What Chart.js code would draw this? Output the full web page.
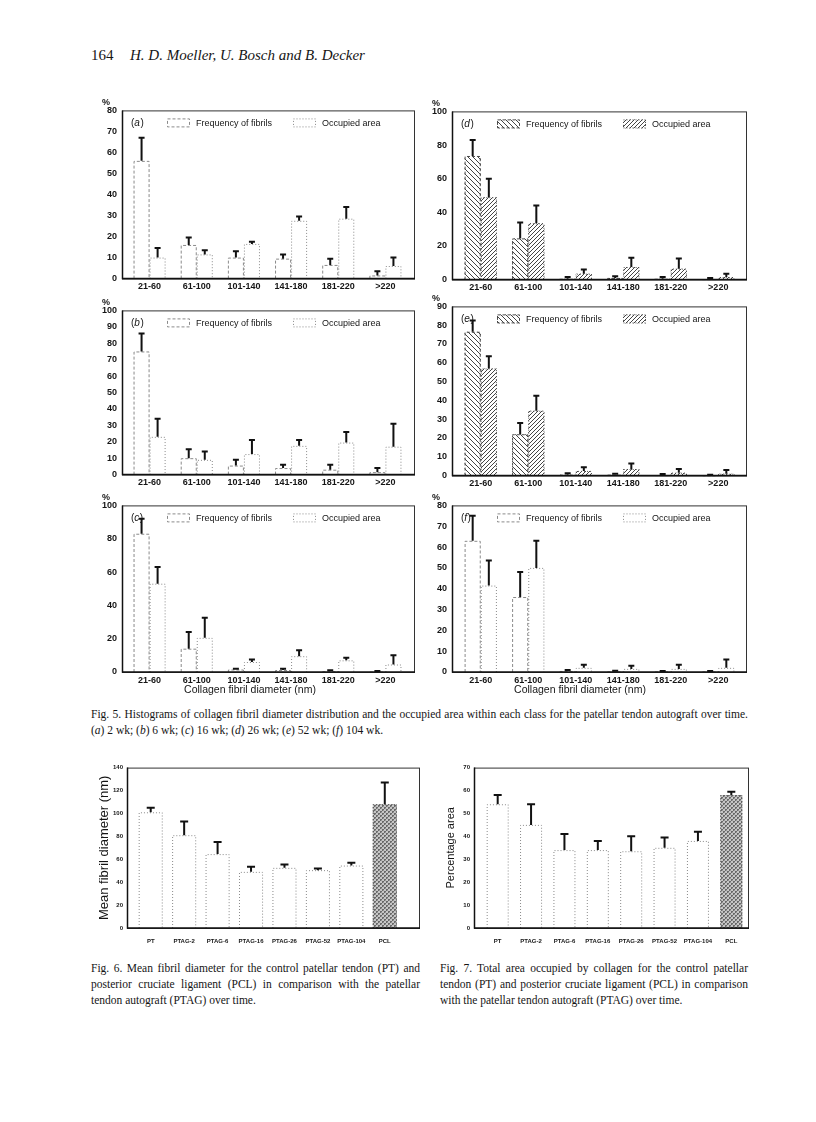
<!DOCTYPE html>
<html>
<head>
<meta charset="utf-8">
<script src="https://cdn.jsdelivr.net/npm/chart.js@4.4.1/dist/chart.umd.min.js"></script>
<style>
  body { margin: 0; background: #fff; width: 816px; height: 1122px; position: relative; font-family: "Liberation Serif", "Times New Roman", serif; color: #151515; }
  .box { position: absolute; }
  .txt { position: absolute; white-space: nowrap; }
  .cap { position: absolute; font-size: 11.5px; line-height: 16px; }
  .cap div { white-space: nowrap; text-align: justify; text-align-last: justify; }
  .cap div.last { text-align-last: left; }
</style>
</head>
<body>

<div class="txt" style="left:91px;top:47px;font-size:15px;">164</div>
<div class="txt" style="left:130px;top:47px;font-size:15px;font-style:italic;">H. D. Moeller, U. Bosch and B. Decker</div>

<div class="box" style="left:92px;top:96px;width:323px;height:197px;"><canvas id="panelA"></canvas></div>
<div class="box" style="left:422px;top:96px;width:325px;height:199px;"><canvas id="panelD"></canvas></div>
<div class="box" style="left:92px;top:296px;width:323px;height:193px;"><canvas id="panelB"></canvas></div>
<div class="box" style="left:422px;top:291px;width:325px;height:200px;"><canvas id="panelE"></canvas></div>
<div class="box" style="left:92px;top:491px;width:323px;height:209px;"><canvas id="panelC"></canvas></div>
<div class="box" style="left:422px;top:490px;width:325px;height:210px;"><canvas id="panelF"></canvas></div>

<div class="cap" style="left:91px;top:706px;width:657px;">
  <div>Fig. 5. Histograms of collagen fibril diameter distribution and the occupied area within each class for the patellar tendon autograft over time.</div>
  <div class="last">(<i>a</i>) 2 wk; (<i>b</i>) 6 wk; (<i>c</i>) 16 wk; (<i>d</i>) 26 wk; (<i>e</i>) 52 wk; (<i>f</i>) 104 wk.</div>
</div>

<div class="box" style="left:94px;top:753px;width:326px;height:191px;"><canvas id="fig6"></canvas></div>
<div class="box" style="left:441px;top:753px;width:308px;height:191px;"><canvas id="fig7"></canvas></div>

<div class="cap" style="left:91px;top:960px;width:329px;">
  <div>Fig. 6. Mean fibril diameter for the control patellar tendon (PT) and</div>
  <div>posterior cruciate ligament (PCL) in comparison with the patellar</div>
  <div class="last">tendon autograft (PTAG) over time.</div>
</div>
<div class="cap" style="left:440px;top:960px;width:308px;">
  <div>Fig. 7. Total area occupied by collagen for the control patellar</div>
  <div>tendon (PT) and posterior cruciate ligament (PCL) in comparison</div>
  <div class="last">with the patellar tendon autograft (PTAG) over time.</div>
</div>

<script>
// fibril diameter classes (nm)
const classes = ["21-60", "61-100", "101-140", "141-180", "181-220", ">220"];

// (a) 2 wk
const aFreq = [56, 16, 10, 9.5, 6.5, 1.5];
const aFreqSd = [11, 3.5, 3, 2, 3, 2];
const aArea = [10, 11.5, 16.5, 27.5, 28.5, 6];
const aAreaSd = [4.5, 2, 1, 2, 5.5, 4];
// (b) 6 wk
const bFreq = [75, 10, 5.5, 4, 3, 1.5];
const bFreqSd = [11, 5.5, 3.5, 2, 3, 2.5];
const bArea = [23, 9, 12.5, 17.5, 19.5, 17];
const bAreaSd = [11, 5, 8.5, 3.5, 6.5, 14];
// (c) 16 wk
const cFreq = [83, 14, 1.5, 1.2, 0.5, 0.3];
const cFreqSd = [9, 10, 0.5, 0.8, 0.5, 0.3];
const cArea = [53, 20.5, 6, 9.5, 7, 4.5];
const cAreaSd = [10, 12, 1.5, 3.5, 1.5, 5.5];
// (d) 26 wk
const dFreq = [73.5, 24.5, 0.5, 1, 0.5, 0.3];
const dFreqSd = [9.5, 9.5, 1, 1, 1, 0.7];
const dArea = [49, 33.5, 3.5, 7.5, 6.5, 1.5];
const dAreaSd = [11, 10.5, 2.5, 5.5, 6, 2];
// (e) 52 wk
const eFreq = [76.5, 22, 0.5, 0.5, 0.3, 0.2];
const eFreqSd = [6, 6, 0.7, 0.5, 0.5, 0.3];
const eArea = [57, 34.5, 2.5, 3.5, 1.5, 1];
const eAreaSd = [6.5, 8, 2, 3, 2, 2];
// (f) 104 wk
const fFreq = [63, 36, 0.5, 0.3, 0.3, 0.3];
const fFreqSd = [12, 12, 0.5, 0.3, 0.2, 0.2];
const fArea = [41.5, 50, 2, 1.5, 1.5, 2];
const fAreaSd = [12, 13, 1.5, 1.5, 2, 4];

// Fig. 6 / Fig. 7
const groups = ["PT", "PTAG-2", "PTAG-6", "PTAG-16", "PTAG-26", "PTAG-52", "PTAG-104", "PCL"];
const meanDiameter = [101, 81, 64.5, 49, 52.5, 50.5, 54.5, 108];
const meanDiameterSd = [4, 12, 10.5, 4.5, 3, 1.5, 2.5, 19];
const totalArea = [54, 45, 34, 34, 33.5, 35, 38, 58];
const totalAreaSd = [4, 9, 7, 4, 6.5, 4.5, 4, 1.5];

const SANS = '"Liberation Sans", Arial, sans-serif';
Chart.defaults.font.family = SANS;
Chart.defaults.color = "#151515";

function stripes(dir, fg, bg, s) {
  const c = document.createElement("canvas");
  c.width = c.height = s;
  const g = c.getContext("2d");
  g.fillStyle = bg;
  g.fillRect(0, 0, s, s);
  g.strokeStyle = fg;
  g.lineWidth = 1;
  g.beginPath();
  for (let i = -1; i <= 1; i++) {
    if (dir === "\\") { g.moveTo(i * s, 0); g.lineTo(i * s + s, s); }
    else { g.moveTo(i * s, s); g.lineTo(i * s + s, 0); }
  }
  g.stroke();
  return g.createPattern(c, "repeat");
}

function checker() {
  const c = document.createElement("canvas");
  c.width = c.height = 4;
  const g = c.getContext("2d");
  g.fillStyle = "#c6c6c6";
  g.fillRect(0, 0, 4, 4);
  g.fillStyle = "#6a6a6a";
  g.fillRect(0, 0, 2, 2); g.fillRect(2, 2, 2, 2);
  g.fillStyle = "#9a9a9a";
  g.fillRect(1, 1, 1, 1); g.fillRect(3, 3, 1, 1);
  return g.createPattern(c, "repeat");
}

// outlines, error bars, frame, legend
const panelDecor = {
  id: "panelDecor",
  afterDatasetsDraw(chart, args, o) {
    const ctx = chart.ctx;
    const y = chart.scales.y;
    chart.data.datasets.forEach((ds, i) => {
      chart.getDatasetMeta(i).data.forEach((bar, j) => {
        const c = Array.isArray(ds.outline) ? ds.outline[j] : ds.outline;
        const l = bar.x - bar.width / 2, r = bar.x + bar.width / 2;
        ctx.save();
        ctx.strokeStyle = c;
        ctx.lineWidth = 1;
        ctx.setLineDash(ds.dash);
        ctx.beginPath();
        ctx.moveTo(l + 0.5, bar.base);
        ctx.lineTo(l + 0.5, bar.y + 0.5);
        ctx.lineTo(r - 0.5, bar.y + 0.5);
        ctx.lineTo(r - 0.5, bar.base);
        ctx.stroke();
        ctx.setLineDash([]);
        const top = y.getPixelForValue(ds.data[j] + ds.sd[j]);
        ctx.strokeStyle = "#111";
        ctx.lineWidth = o.err;
        ctx.beginPath();
        ctx.moveTo(bar.x, bar.y);
        ctx.lineTo(bar.x, top);
        ctx.moveTo(bar.x - o.cap, top);
        ctx.lineTo(bar.x + o.cap, top);
        ctx.stroke();
        ctx.restore();
      });
    });
  },
  afterDraw(chart, args, o) {
    const { ctx, chartArea: a } = chart;
    const L = a.left - o.fl, R = a.right + o.fr;
    ctx.save();
    ctx.strokeStyle = "#333";
    ctx.lineWidth = 1;
    ctx.strokeRect(L + 0.5, a.top + 0.5, R - L - 1, a.bottom - a.top);
    ctx.strokeStyle = "#111";
    ctx.lineWidth = 1.5;
    ctx.beginPath();
    ctx.moveTo(L + 0.5, a.top);
    ctx.lineTo(L + 0.5, a.bottom);
    ctx.lineTo(R, a.bottom);
    ctx.stroke();
    ctx.fillStyle = "#151515";
    if (o.pct) {
      ctx.font = "bold 9px " + SANS;
      ctx.textAlign = "center";
      ctx.textBaseline = "middle";
      ctx.fillText("%", L - 16, a.top - 8);
    }
    if (o.xTitle) {
      ctx.font = "10.5px " + SANS;
      ctx.textAlign = "center";
      ctx.textBaseline = "middle";
      ctx.fillText(o.xTitle, L + 128, a.bottom + 18);
    }
    if (o.letter) {
      const ty = a.top + 13;
      ctx.textAlign = "left";
      ctx.textBaseline = "middle";
      let x = L + 9;
      ctx.font = "10px " + SANS;
      ctx.fillText("(", x, ty); x += ctx.measureText("(").width;
      ctx.font = "italic 10px " + SANS;
      ctx.fillText(o.letter, x, ty); x += ctx.measureText(o.letter).width + 0.5;
      ctx.font = "10px " + SANS;
      ctx.fillText(")", x, ty);
      const offs = [45, 171];
      chart.data.datasets.forEach((ds, i) => {
        const bx = L + offs[i], by = a.top + 8;
        ctx.fillStyle = ds.backgroundColor;
        ctx.fillRect(bx, by, 23, 9);
        ctx.strokeStyle = ds.outline;
        ctx.lineWidth = 1;
        ctx.setLineDash(ds.dash);
        ctx.strokeRect(bx + 0.5, by + 0.5, 22, 8);
        ctx.setLineDash([]);
        ctx.fillStyle = "#151515";
        ctx.font = "9px " + SANS;
        ctx.fillText(ds.label, bx + 29, ty);
      });
    }
    ctx.restore();
  }
};

function histogram(id, letter, freq, freqSd, area, areaSd, yMax, yStep, hatched, xTitle) {
  const line = hatched ? "#4a4a4a" : "#8a8a8a";
  const right = id === "panelD" || id === "panelE" || id === "panelF";
  new Chart(document.getElementById(id), {
    type: "bar",
    data: {
      labels: classes,
      datasets: [
        { label: "Frequency of fibrils", data: freq, sd: freqSd, backgroundColor: hatched ? stripes("\\", "#444", "#fff", 5) : "#fff", borderWidth: 0, outline: line, dash: [3, 2] },
        { label: "Occupied area", data: area, sd: areaSd, backgroundColor: hatched ? stripes("/", "#444", "#fff", 4) : "#fff", borderWidth: 0, outline: line, dash: [1, 2] }
      ]
    },
    options: {
      responsive: true,
      maintainAspectRatio: false,
      animation: false,
      layout: { padding: { top: 14, left: 0, right: right ? 5 : 6, bottom: 0 } },
      datasets: { bar: { categoryPercentage: 0.68, barPercentage: 1 } },
      plugins: {
        legend: { display: false },
        tooltip: { enabled: false },
        panelDecor: { letter, pct: true, cap: 3, err: 2, fl: right ? 5 : 4, fr: right ? 5 : 6, xTitle }
      },
      scales: {
        x: {
          grid: { display: false, drawTicks: false },
          border: { display: false },
          ticks: { color: "#151515", font: { size: 9, weight: "bold" }, padding: 3, maxRotation: 0, autoSkip: false },
          afterFit: s => { s.height = xTitle ? 28 : 14; }
        },
        y: {
          min: 0,
          max: yMax,
          ticks: { stepSize: yStep, color: "#151515", font: { size: 9, weight: "bold" }, padding: right ? 10 : 9 },
          grid: { display: false, drawTicks: false },
          border: { display: false },
          afterFit: s => { s.width = right ? 35 : 34; }
        }
      }
    },
    plugins: [panelDecor]
  });
}

histogram("panelA", "a", aFreq, aFreqSd, aArea, aAreaSd, 80, 10, false);
histogram("panelB", "b", bFreq, bFreqSd, bArea, bAreaSd, 100, 10, false);
histogram("panelC", "c", cFreq, cFreqSd, cArea, cAreaSd, 100, 20, false, "Collagen fibril diameter (nm)");
histogram("panelD", "d", dFreq, dFreqSd, dArea, dAreaSd, 100, 20, true);
histogram("panelE", "e", eFreq, eFreqSd, eArea, eAreaSd, 90, 10, true);
histogram("panelF", "f", fFreq, fFreqSd, fArea, fAreaSd, 80, 10, false, "Collagen fibril diameter (nm)");

function groupChart(id, values, sd, yMax, yStep, yTitle, titleSize, padRight, barPct) {
  const pcl = checker();
  new Chart(document.getElementById(id), {
    type: "bar",
    data: {
      labels: groups,
      datasets: [{
        label: yTitle,
        data: values,
        sd: sd,
        backgroundColor: groups.map(g => g === "PCL" ? pcl : "#fff"),
        borderWidth: 0,
        outline: groups.map(g => g === "PCL" ? "#555" : "#8a8a8a"),
        dash: [1, 2]
      }]
    },
    options: {
      responsive: true,
      maintainAspectRatio: false,
      animation: false,
      layout: { padding: { top: 6, left: 0, right: padRight, bottom: 0 } },
      datasets: { bar: { categoryPercentage: barPct, barPercentage: 1 } },
      plugins: {
        legend: { display: false },
        tooltip: { enabled: false },
        panelDecor: { letter: null, pct: false, cap: 4, err: 2, fl: 7, fr: padRight }
      },
      scales: {
        x: {
          grid: { display: false, drawTicks: false },
          border: { display: false },
          ticks: { color: "#151515", font: { size: 6, weight: "bold" }, padding: 10, maxRotation: 0, autoSkip: false },
          afterFit: s => { s.height = 16; }
        },
        y: {
          min: 0,
          max: yMax,
          ticks: { stepSize: yStep, color: "#151515", font: { size: 6, weight: "bold" }, padding: 11 },
          grid: { display: false, drawTicks: false },
          border: { display: false },
          title: { display: true, text: yTitle, color: "#151515", font: { size: titleSize }, padding: { top: 3, bottom: 0 } },
          afterFit: s => { s.width = 40; }
        }
      }
    },
    plugins: [panelDecor]
  });
}

groupChart("fig6", meanDiameter, meanDiameterSd, 140, 20, "Mean fibril diameter (nm)", 13, 18.5, 0.72);
groupChart("fig7", totalArea, totalAreaSd, 70, 10, "Percentage area", 11, 1, 0.66);
</script>
</body>
</html>
